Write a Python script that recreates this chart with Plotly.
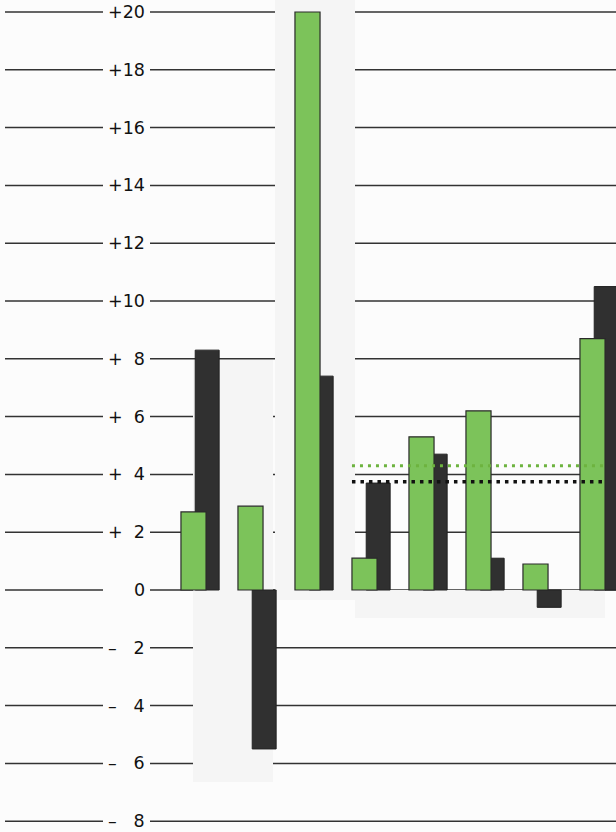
import plotly.graph_objects as go

# ---- data ----
groups = [1, 2, 3, 4, 5, 6, 7, 8]
green_values = [2.7, 2.9, 20.0, 1.1, 5.3, 6.2, 0.9, 8.7]
dark_values = [8.3, -5.5, 7.4, 3.7, 4.7, 1.1, -0.6, 10.5]
green_avg = 4.3
dark_avg = 3.75
avg_from_group = 4
avg_to_group = 8
tick_vals = [20, 18, 16, 14, 12, 10, 8, 6, 4, 2, 0, -2, -4, -6, -8]
tick_text = ["+20", "+18", "+16", "+14", "+12", "+10",
             "+\u20078", "+\u20076", "+\u20074", "+\u20072", "0",
             "\u2013\u2007\u00a02", "\u2013\u2007\u00a04", "\u2013\u2007\u00a06", "\u2013\u2007\u00a08"]

# ---- styling ----
W, H = 616, 832
GREEN = "#7cc35a"
DARK = "#303030"
GRID = "#333333"
BG = "#fcfcfc"
BAND = "#f5f5f5"
bar_w = 0.44
dark_shift = 0.25

# pixel mapping helpers (layout only)
x_px0, x_scale = 136.5, 57.0
def px2x(p):
    return (p - x_px0) / x_scale

y0_px, y_scale = 590.0, 28.9
def px2y(p):
    return (y0_px - p) / y_scale

fig = go.Figure()

fig.add_trace(go.Bar(
    x=groups, y=dark_values, width=0.42, offset=-bar_w / 2 + dark_shift,
    marker=dict(color=DARK, line=dict(color="#222222", width=1)),
    showlegend=False, hoverinfo="y"))
fig.add_trace(go.Bar(
    x=groups, y=green_values, width=bar_w, offset=-bar_w / 2,
    marker=dict(color=GREEN, line=dict(color="#2a2a2a", width=1.2)),
    showlegend=False, hoverinfo="y"))

# average dotted lines (drawn over bars)
x_start = avg_from_group - bar_w / 2
x_end = avg_to_group + bar_w / 2
fig.add_trace(go.Scatter(
    x=[x_start, x_end], y=[green_avg, green_avg], mode="lines",
    line=dict(color="#6db33f", width=3, dash="3px,5px"),
    showlegend=False, hoverinfo="skip"))
fig.add_trace(go.Scatter(
    x=[x_start, x_end], y=[dark_avg, dark_avg], mode="lines",
    line=dict(color="#111111", width=3.5, dash="3.5px,5px"),
    showlegend=False, hoverinfo="skip"))

shapes = []
# faint shaded bands (scan shading)
shapes.append(dict(type="rect", xref="x", yref="y", layer="below",
                   x0=px2x(193), x1=px2x(273), y0=px2y(782), y1=px2y(360),
                   fillcolor=BAND, line=dict(width=0)))
shapes.append(dict(type="rect", xref="x", yref="y", layer="below",
                   x0=px2x(275), x1=px2x(355), y0=px2y(600), y1=px2y(0),
                   fillcolor=BAND, line=dict(width=0)))
shapes.append(dict(type="rect", xref="x", yref="y", layer="below",
                   x0=px2x(355), x1=px2x(605), y0=px2y(618), y1=px2y(590),
                   fillcolor=BAND, line=dict(width=0)))
# gridlines split around the labels
for v in tick_vals:
    shapes.append(dict(type="line", xref="paper", yref="y", layer="below",
                       x0=5 / W, x1=103 / W, y0=v, y1=v,
                       line=dict(color=GRID, width=1.5)))
    shapes.append(dict(type="line", xref="paper", yref="y", layer="below",
                       x0=150 / W, x1=1, y0=v, y1=v,
                       line=dict(color=GRID, width=1.5)))

annotations = []
for v, t in zip(tick_vals, tick_text):
    annotations.append(dict(x=147 / W, xref="paper", y=v, yref="y",
                            text=t, showarrow=False, xanchor="right",
                            yanchor="middle",
                            font=dict(family="DejaVu Sans", size=17.5,
                                      color="#111111")))

fig.update_layout(
    width=W, height=H,
    margin=dict(l=0, r=0, t=0, b=0),
    paper_bgcolor=BG, plot_bgcolor=BG,
    barmode="overlay",
    shapes=shapes, annotations=annotations,
    xaxis=dict(range=[px2x(0), px2x(W)], showgrid=False, zeroline=False,
               showticklabels=False, ticks="", fixedrange=True),
    yaxis=dict(range=[px2y(H), px2y(0)], showgrid=False, zeroline=False,
               showticklabels=False, ticks="", fixedrange=True),
)

fig.write_html("out.html", post_script="document.body.style.margin='0';",
               config={"displayModeBar": False})
